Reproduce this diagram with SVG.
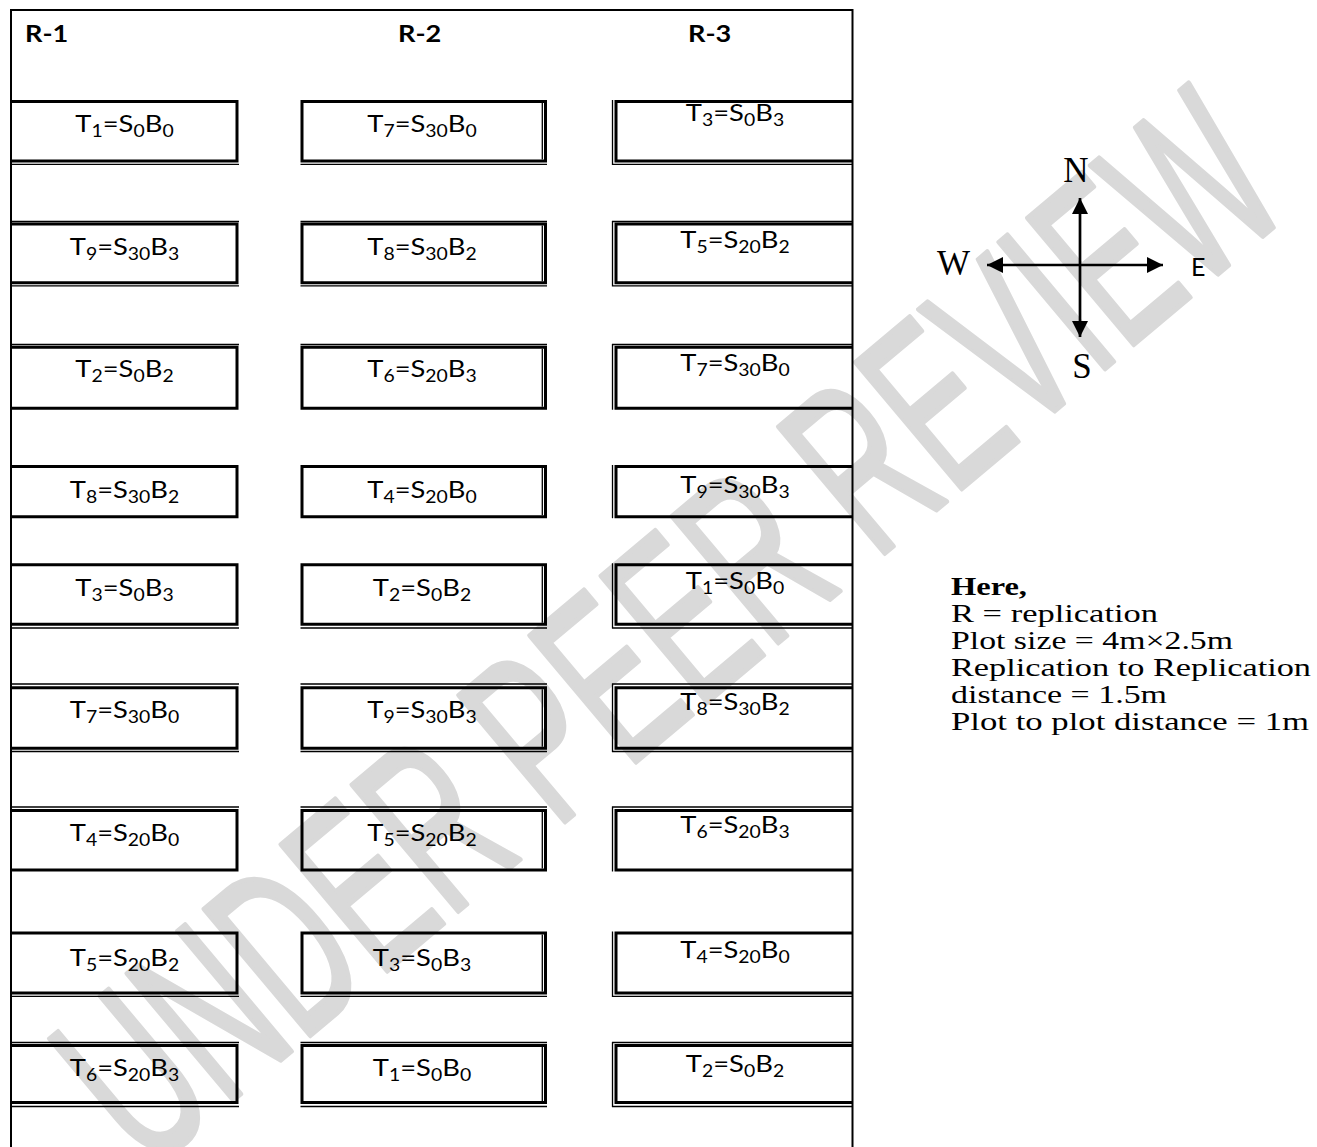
<svg xmlns="http://www.w3.org/2000/svg" width="1317" height="1147" viewBox="0 0 1317 1147">
<style>
.tk{fill:none;stroke:#000;stroke-width:3}
.tn{fill:none;stroke:#000;stroke-width:1.3}
.fr{fill:none;stroke:#000;stroke-width:2}
.lb{font-family:Lato,"Liberation Sans",sans-serif;font-size:24px;fill:#000;text-anchor:middle}
.s{font-size:17px}
.hd{font-family:Lato,"Liberation Sans",sans-serif;font-size:23px;font-weight:bold;fill:#000}
.lg{font-family:"Liberation Serif",serif;font-size:25px;fill:#000}
.cp{font-family:"Liberation Serif",serif;font-size:35px;fill:#000}
.ar{stroke:#000;stroke-width:2.7;fill:none}
.wm{font-family:"Liberation Sans",sans-serif;font-size:240px;fill:#d9d9d9;stroke:#d9d9d9;stroke-width:5;stroke-linejoin:round}
</style>
<defs>
<marker id="ah" viewBox="0 0 10 10" refX="10" refY="5" markerWidth="6" markerHeight="6" orient="auto"><path d="M0,0 L10,5 L0,10 z" fill="#000"/></marker>
</defs>
<rect width="1317" height="1147" fill="#fff"/>
<g id="watermark">
<text class="wm" transform="translate(668,627) rotate(-40)" text-anchor="middle" dominant-baseline="central" textLength="1500" lengthAdjust="spacingAndGlyphs">UNDER PEER REVIEW</text>
</g>
<g id="frame">
<path class="fr" d="M11,1147V10H852.5V1147"/>
<text class="hd" transform="translate(25,42) scale(1.18,1)">R-1</text>
<text class="hd" transform="translate(398,42) scale(1.18,1)">R-2</text>
<text class="hd" transform="translate(688,42) scale(1.18,1)">R-3</text>
</g>
<!-- Row 1 -->
<g id="r1c1"><path class="tk" d="M11,101.5H237V161H11"/><path class="tn" d="M11,164.3H239"/>
<text class="lb" transform="translate(124.5,132) scale(1.14,1)">T<tspan class="s" dy="5">1</tspan><tspan dy="-5">=S</tspan><tspan class="s" dy="5">0</tspan><tspan dy="-5">B</tspan><tspan class="s" dy="5">0</tspan></text></g>
<g id="r1c2"><path class="tk" d="M302,101.5H545.5V161H302Z"/><path class="tn" d="M542.3,103V159.5M300.5,164.3H547"/>
<text class="lb" transform="translate(422,132) scale(1.14,1)">T<tspan class="s" dy="5">7</tspan><tspan dy="-5">=S</tspan><tspan class="s" dy="5">30</tspan><tspan dy="-5">B</tspan><tspan class="s" dy="5">0</tspan></text></g>
<g id="r1c3"><path class="tk" d="M852,101.5H616V161H852"/><path class="tn" d="M612.5,100V165M612,164.3H852"/>
<text class="lb" transform="translate(735,121) scale(1.14,1)">T<tspan class="s" dy="5">3</tspan><tspan dy="-5">=S</tspan><tspan class="s" dy="5">0</tspan><tspan dy="-5">B</tspan><tspan class="s" dy="5">3</tspan></text></g>
<!-- Row 2 -->
<g id="r2c1"><path class="tk" d="M11,224H237V282.7H11"/><path class="tn" d="M11,221.5H239M11,285.8H239"/>
<text class="lb" transform="translate(124.5,255) scale(1.14,1)">T<tspan class="s" dy="5">9</tspan><tspan dy="-5">=S</tspan><tspan class="s" dy="5">30</tspan><tspan dy="-5">B</tspan><tspan class="s" dy="5">3</tspan></text></g>
<g id="r2c2"><path class="tk" d="M302,224H545.5V282.7H302Z"/><path class="tn" d="M542.3,225.5V281.2M300.5,221.5H547M300.5,285.8H547"/>
<text class="lb" transform="translate(422,255) scale(1.14,1)">T<tspan class="s" dy="5">8</tspan><tspan dy="-5">=S</tspan><tspan class="s" dy="5">30</tspan><tspan dy="-5">B</tspan><tspan class="s" dy="5">2</tspan></text></g>
<g id="r2c3"><path class="tk" d="M852,224H616V282.7H852"/><path class="tn" d="M612.5,221V286.5M612,221.5H852M612,285.8H852"/>
<text class="lb" transform="translate(735,248) scale(1.14,1)">T<tspan class="s" dy="5">5</tspan><tspan dy="-5">=S</tspan><tspan class="s" dy="5">20</tspan><tspan dy="-5">B</tspan><tspan class="s" dy="5">2</tspan></text></g>
<!-- Row 3 -->
<g id="r3c1"><path class="tk" d="M11,347.3H237V408.3H11"/><path class="tn" d="M11,344.5H239"/>
<text class="lb" transform="translate(124.5,377) scale(1.14,1)">T<tspan class="s" dy="5">2</tspan><tspan dy="-5">=S</tspan><tspan class="s" dy="5">0</tspan><tspan dy="-5">B</tspan><tspan class="s" dy="5">2</tspan></text></g>
<g id="r3c2"><path class="tk" d="M302,347.3H545.5V408.3H302Z"/><path class="tn" d="M542.3,348.8V406.8M300.5,344.5H547"/>
<text class="lb" transform="translate(422,377) scale(1.14,1)">T<tspan class="s" dy="5">6</tspan><tspan dy="-5">=S</tspan><tspan class="s" dy="5">20</tspan><tspan dy="-5">B</tspan><tspan class="s" dy="5">3</tspan></text></g>
<g id="r3c3"><path class="tk" d="M852,347.3H616V408.3H852"/><path class="tn" d="M612.5,344V409.8M612,344.5H852"/>
<text class="lb" transform="translate(735,371) scale(1.14,1)">T<tspan class="s" dy="5">7</tspan><tspan dy="-5">=S</tspan><tspan class="s" dy="5">30</tspan><tspan dy="-5">B</tspan><tspan class="s" dy="5">0</tspan></text></g>
<!-- Row 4 -->
<g id="r4c1"><path class="tk" d="M11,466.5H237V516.7H11"/>
<text class="lb" transform="translate(124.5,498) scale(1.14,1)">T<tspan class="s" dy="5">8</tspan><tspan dy="-5">=S</tspan><tspan class="s" dy="5">30</tspan><tspan dy="-5">B</tspan><tspan class="s" dy="5">2</tspan></text></g>
<g id="r4c2"><path class="tk" d="M302,466.5H545.5V516.7H302Z"/><path class="tn" d="M542.3,468V515.2"/>
<text class="lb" transform="translate(422,498) scale(1.14,1)">T<tspan class="s" dy="5">4</tspan><tspan dy="-5">=S</tspan><tspan class="s" dy="5">20</tspan><tspan dy="-5">B</tspan><tspan class="s" dy="5">0</tspan></text></g>
<g id="r4c3"><path class="tk" d="M852,466.5H616V516.7H852"/><path class="tn" d="M612.5,465V518.2"/>
<text class="lb" transform="translate(735,493) scale(1.14,1)">T<tspan class="s" dy="5">9</tspan><tspan dy="-5">=S</tspan><tspan class="s" dy="5">30</tspan><tspan dy="-5">B</tspan><tspan class="s" dy="5">3</tspan></text></g>
<!-- Row 5 -->
<g id="r5c1"><path class="tk" d="M11,564.7H237V624.3H11"/><path class="tn" d="M11,628H239"/>
<text class="lb" transform="translate(124.5,596) scale(1.14,1)">T<tspan class="s" dy="5">3</tspan><tspan dy="-5">=S</tspan><tspan class="s" dy="5">0</tspan><tspan dy="-5">B</tspan><tspan class="s" dy="5">3</tspan></text></g>
<g id="r5c2"><path class="tk" d="M302,564.7H545.5V624.3H302Z"/><path class="tn" d="M542.3,566.2V622.8M300.5,628H547"/>
<text class="lb" transform="translate(422,596) scale(1.14,1)">T<tspan class="s" dy="5">2</tspan><tspan dy="-5">=S</tspan><tspan class="s" dy="5">0</tspan><tspan dy="-5">B</tspan><tspan class="s" dy="5">2</tspan></text></g>
<g id="r5c3"><path class="tk" d="M852,564.7H616V624.3H852"/><path class="tn" d="M612.5,563.2V628.6M612,628H852"/>
<text class="lb" transform="translate(735,589) scale(1.14,1)">T<tspan class="s" dy="5">1</tspan><tspan dy="-5">=S</tspan><tspan class="s" dy="5">0</tspan><tspan dy="-5">B</tspan><tspan class="s" dy="5">0</tspan></text></g>
<!-- Row 6 -->
<g id="r6c1"><path class="tk" d="M11,687.8H237V748.3H11"/><path class="tn" d="M11,684H239M11,751.5H239"/>
<text class="lb" transform="translate(124.5,718) scale(1.14,1)">T<tspan class="s" dy="5">7</tspan><tspan dy="-5">=S</tspan><tspan class="s" dy="5">30</tspan><tspan dy="-5">B</tspan><tspan class="s" dy="5">0</tspan></text></g>
<g id="r6c2"><path class="tk" d="M302,687.8H545.5V748.3H302Z"/><path class="tn" d="M542.3,689.3V746.8M300.5,684H547M300.5,751.5H547"/>
<text class="lb" transform="translate(422,718) scale(1.14,1)">T<tspan class="s" dy="5">9</tspan><tspan dy="-5">=S</tspan><tspan class="s" dy="5">30</tspan><tspan dy="-5">B</tspan><tspan class="s" dy="5">3</tspan></text></g>
<g id="r6c3"><path class="tk" d="M852,687.8H616V748.3H852"/><path class="tn" d="M612.5,683.4V752.1M612,684H852M612,751.5H852"/>
<text class="lb" transform="translate(735,710) scale(1.14,1)">T<tspan class="s" dy="5">8</tspan><tspan dy="-5">=S</tspan><tspan class="s" dy="5">30</tspan><tspan dy="-5">B</tspan><tspan class="s" dy="5">2</tspan></text></g>
<!-- Row 7 -->
<g id="r7c1"><path class="tk" d="M11,810.5H237V870H11"/><path class="tn" d="M11,807H239"/>
<text class="lb" transform="translate(124.5,841) scale(1.14,1)">T<tspan class="s" dy="5">4</tspan><tspan dy="-5">=S</tspan><tspan class="s" dy="5">20</tspan><tspan dy="-5">B</tspan><tspan class="s" dy="5">0</tspan></text></g>
<g id="r7c2"><path class="tk" d="M302,810.5H545.5V870H302Z"/><path class="tn" d="M542.3,812V868.5M300.5,807H547"/>
<text class="lb" transform="translate(422,841) scale(1.14,1)">T<tspan class="s" dy="5">5</tspan><tspan dy="-5">=S</tspan><tspan class="s" dy="5">20</tspan><tspan dy="-5">B</tspan><tspan class="s" dy="5">2</tspan></text></g>
<g id="r7c3"><path class="tk" d="M852,810.5H616V870H852"/><path class="tn" d="M612.5,806.4V871.5M612,807H852"/>
<text class="lb" transform="translate(735,833) scale(1.14,1)">T<tspan class="s" dy="5">6</tspan><tspan dy="-5">=S</tspan><tspan class="s" dy="5">20</tspan><tspan dy="-5">B</tspan><tspan class="s" dy="5">3</tspan></text></g>
<!-- Row 8 -->
<g id="r8c1"><path class="tk" d="M11,933H237V993H11"/><path class="tn" d="M11,996.3H239"/>
<text class="lb" transform="translate(124.5,966) scale(1.14,1)">T<tspan class="s" dy="5">5</tspan><tspan dy="-5">=S</tspan><tspan class="s" dy="5">20</tspan><tspan dy="-5">B</tspan><tspan class="s" dy="5">2</tspan></text></g>
<g id="r8c2"><path class="tk" d="M302,933H545.5V993H302Z"/><path class="tn" d="M542.3,934.5V991.5M300.5,996.3H547"/>
<text class="lb" transform="translate(422,966) scale(1.14,1)">T<tspan class="s" dy="5">3</tspan><tspan dy="-5">=S</tspan><tspan class="s" dy="5">0</tspan><tspan dy="-5">B</tspan><tspan class="s" dy="5">3</tspan></text></g>
<g id="r8c3"><path class="tk" d="M852,933H616V993H852"/><path class="tn" d="M612.5,931.5V996.9M612,996.3H852"/>
<text class="lb" transform="translate(735,958) scale(1.14,1)">T<tspan class="s" dy="5">4</tspan><tspan dy="-5">=S</tspan><tspan class="s" dy="5">20</tspan><tspan dy="-5">B</tspan><tspan class="s" dy="5">0</tspan></text></g>
<!-- Row 9 -->
<g id="r9c1"><path class="tk" d="M11,1045.5H237V1102.5H11"/><path class="tn" d="M11,1042.5H239M11,1106.5H239"/>
<text class="lb" transform="translate(124.5,1076) scale(1.14,1)">T<tspan class="s" dy="5">6</tspan><tspan dy="-5">=S</tspan><tspan class="s" dy="5">20</tspan><tspan dy="-5">B</tspan><tspan class="s" dy="5">3</tspan></text></g>
<g id="r9c2"><path class="tk" d="M302,1045.5H545.5V1102.5H302Z"/><path class="tn" d="M542.3,1047V1101M300.5,1042.5H547M300.5,1106.5H547"/>
<text class="lb" transform="translate(422,1076) scale(1.14,1)">T<tspan class="s" dy="5">1</tspan><tspan dy="-5">=S</tspan><tspan class="s" dy="5">0</tspan><tspan dy="-5">B</tspan><tspan class="s" dy="5">0</tspan></text></g>
<g id="r9c3"><path class="tk" d="M852,1045.5H616V1102.5H852"/><path class="tn" d="M612.5,1041.9V1107.1M612,1042.5H852M612,1106.5H852"/>
<text class="lb" transform="translate(735,1072) scale(1.14,1)">T<tspan class="s" dy="5">2</tspan><tspan dy="-5">=S</tspan><tspan class="s" dy="5">0</tspan><tspan dy="-5">B</tspan><tspan class="s" dy="5">2</tspan></text></g>
<g id="compass">
<line class="ar" x1="1080" y1="265" x2="1080" y2="198" marker-end="url(#ah)"/>
<line class="ar" x1="1080" y1="265" x2="1080" y2="337" marker-end="url(#ah)"/>
<line class="ar" x1="1080" y1="265" x2="987" y2="265" marker-end="url(#ah)"/>
<line class="ar" x1="1080" y1="265" x2="1163" y2="265" marker-end="url(#ah)"/>
<text class="cp" x="1076" y="182" text-anchor="middle">N</text>
<text class="cp" x="937" y="275">W</text>
<text class="cp" x="1082" y="378" text-anchor="middle">S</text>
<text x="1191" y="276" font-family="Lato, 'Liberation Sans', sans-serif" font-size="25">E</text>
</g>
<g id="legend">
<text class="lg" x="951" y="595" font-weight="bold" textLength="76" lengthAdjust="spacingAndGlyphs">Here,</text>
<text class="lg" x="951" y="622" textLength="207" lengthAdjust="spacingAndGlyphs">R = replication</text>
<text class="lg" x="951" y="649" textLength="282" lengthAdjust="spacingAndGlyphs">Plot size = 4m×2.5m</text>
<text class="lg" x="951" y="676" textLength="360" lengthAdjust="spacingAndGlyphs">Replication to Replication</text>
<text class="lg" x="951" y="703" textLength="216" lengthAdjust="spacingAndGlyphs">distance = 1.5m</text>
<text class="lg" x="951" y="730" textLength="358" lengthAdjust="spacingAndGlyphs">Plot to plot distance = 1m</text>
</g>
</svg>
